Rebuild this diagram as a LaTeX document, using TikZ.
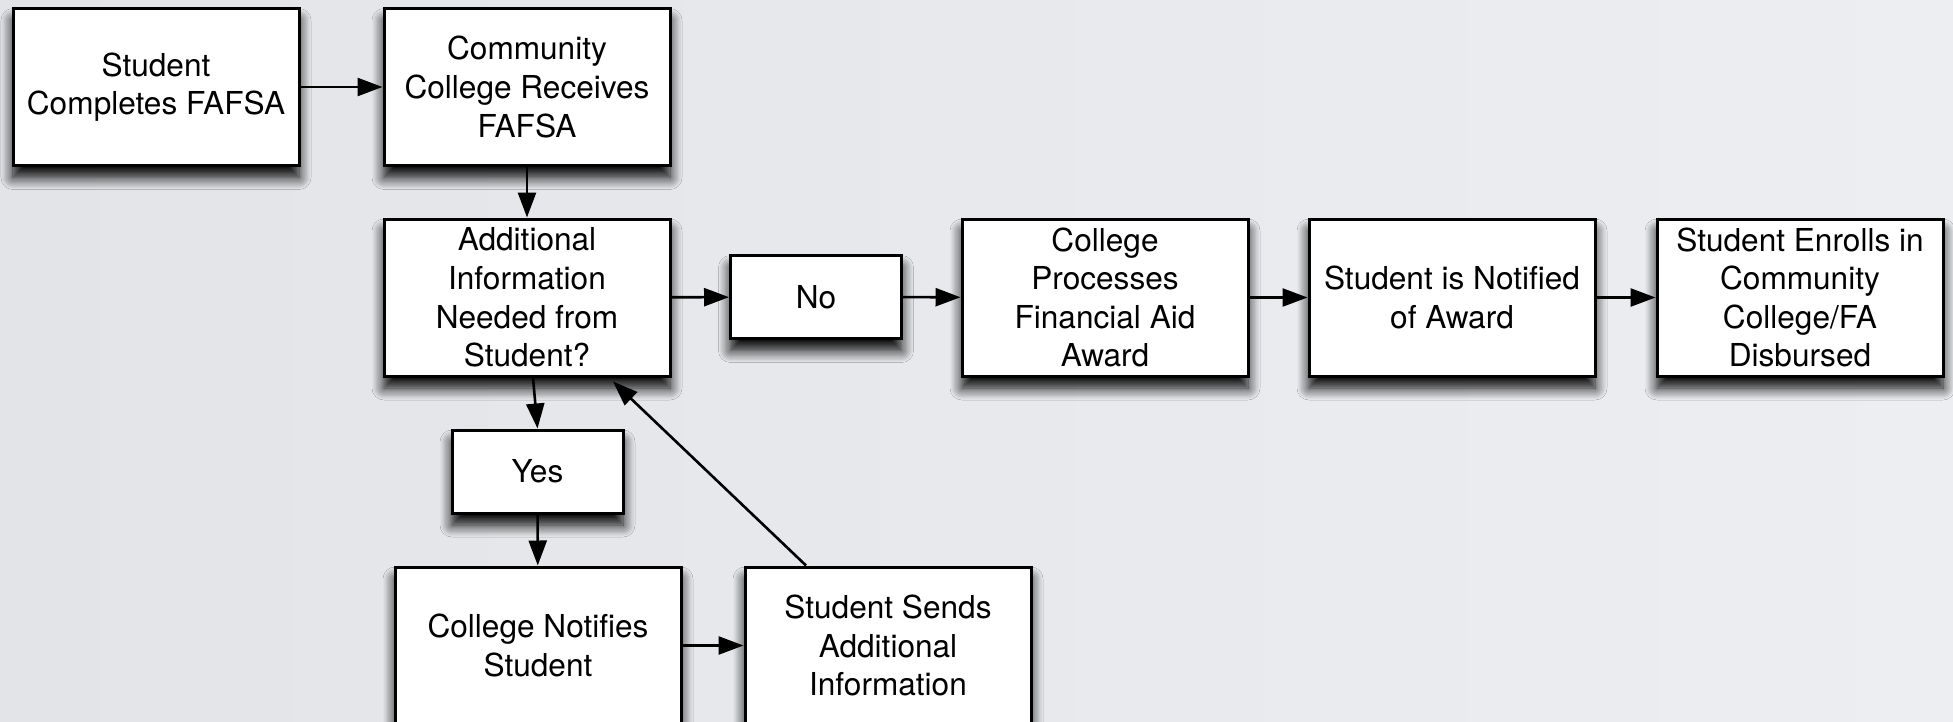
\documentclass[tikz,border=0pt]{standalone}
\usepackage{fontspec}
\setmainfont{TeX Gyre Heros}
\usetikzlibrary{arrows.meta,shadows.blur,calc}
\definecolor{bgA}{RGB}{226,228,232}
\definecolor{bgB}{RGB}{236,238,241}
\begin{document}
\begin{tikzpicture}[x=0.5pt,y=-0.5pt,
  box/.style={draw=black,fill=white,line width=1.5pt,inner sep=0pt,
    minimum width=143pt,minimum height=78.5pt,align=center,
    font=\fontsize{15.8pt}{19.3pt}\selectfont,
    blur shadow={shadow xshift=0pt,shadow yshift=-6pt,shadow blur radius=6pt,shadow opacity=100,shadow blur steps=10}},
  small/.style={box,minimum width=85.5pt,minimum height=41.5pt},
  arr/.style={line width=1.3pt,-{Triangle[length=12.5pt,width=9pt]}}]
\shade[left color=bgA,right color=bgB] (0,0) rectangle (1953,722);
\useasboundingbox (0,0) rectangle (1953,722);
\node[box] (b1) at (156,87) {Student\\Completes FAFSA};
\node[box] (b2) at (527,87) {Community\\College Receives\\FAFSA};
\node[box] (b3) at (527,297.5) {Additional\\Information\\Needed from\\Student?};
\node[small] (no) at (816,297) {No};
\node[box] (cp) at (1105,297.5) {College\\Processes\\Financial Aid\\Award};
\node[box] (sn) at (1452,297.5) {Student is Notified\\of Award};
\node[box] (se) at (1800,297.5) {Student Enrolls in\\Community\\College/FA\\Disbursed};
\node[small] (yes) at (537.5,471.5) {Yes};
\node[box] (cn) at (538,645.5) {College Notifies\\Student};
\node[box] (ss) at (888,645.5) {Student Sends\\Additional\\Information};
\draw[arr] (b1) -- (b2);
\draw[arr] (b2) -- (b3);
\draw[arr] (b3) -- (no);
\draw[arr] (no) -- (cp);
\draw[arr] (cp) -- (sn);
\draw[arr] (sn) -- (se);
\draw[arr] ($(b3.south)+(6,0)$) -- (yes.north);
\draw[arr] (yes) -- (cn);
\draw[arr] (cn) -- (ss);
\draw[arr] ($(ss.north)+(-82,0)$) -- ($(b3.south)+(86,4)$);
\end{tikzpicture}
\end{document}
